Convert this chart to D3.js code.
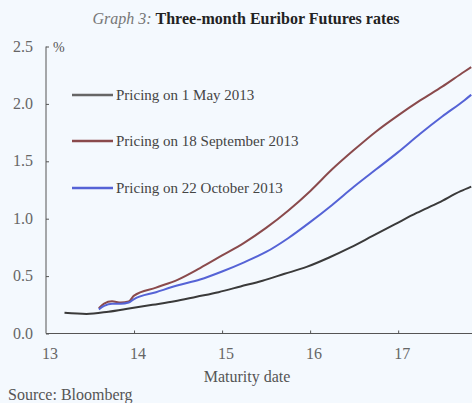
<!DOCTYPE html>
<html><head><meta charset="utf-8">
<script src="https://cdn.jsdelivr.net/npm/d3@7/dist/d3.min.js"></script>
<style>
html,body{margin:0;padding:0;background:#f4f9fe;}
svg{display:block;}
svg text{font-family:"Liberation Serif","DejaVu Serif",serif;}
</style></head>
<body><svg id="c" width="472" height="403"></svg>
<script>
const seriesNames = ["Pricing on 1 May 2013","Pricing on 18 September 2013","Pricing on 22 October 2013"];
const seriesColors = ["#3a3a3a","#8a4a4c","#5563d6"];
const mayDates = [13.21,13.46,13.71,13.96,14.21,14.46,14.71,14.96,15.21,15.46,15.71,15.96,16.21,16.46,16.71,16.96,17.21,17.46,17.71,17.83];
const mayRates = [0.18,0.17,0.19,0.22,0.25,0.28,0.32,0.36,0.41,0.46,0.52,0.58,0.66,0.75,0.85,0.95,1.05,1.14,1.24,1.28];
const sepDates = [13.60,13.66,13.75,13.85,13.94,14.0,14.25,14.5,14.75,15.0,15.25,15.5,15.75,16.0,16.25,16.5,16.75,17.0,17.25,17.5,17.75,17.83];
const sepRates = [0.22,0.26,0.28,0.27,0.28,0.33,0.40,0.47,0.57,0.68,0.79,0.92,1.07,1.24,1.43,1.60,1.76,1.90,2.03,2.15,2.28,2.32];
const octDates = [13.60,13.66,13.75,13.85,13.94,14.0,14.25,14.5,14.75,15.0,15.25,15.5,15.75,16.0,16.25,16.5,16.75,17.0,17.25,17.5,17.75,17.83];
const octRates = [0.21,0.24,0.26,0.26,0.27,0.30,0.36,0.42,0.47,0.54,0.62,0.71,0.83,0.97,1.12,1.28,1.43,1.58,1.74,1.89,2.03,2.08];
const xTicks = [13,14,15,16,17];
const yTicks = [0,0.5,1,1.5,2,2.5];

const svg = d3.select("#c");
const FF = "'Liberation Serif','DejaVu Serif',serif";
const x = d3.scaleLinear().domain([13,17.85]).range([46,473]);
const y = d3.scaleLinear().domain([0,2.5]).range([333.5,46.5]);
const axisColor = "#555";

// title
const t = svg.append("text").attr("x",246).attr("y",24).attr("text-anchor","middle").attr("font-size",16).attr("font-family",FF);
t.append("tspan").attr("font-style","italic").attr("fill","#777").text("Graph 3: ");
t.append("tspan").attr("font-weight","bold").attr("fill","#222").text("Three-month Euribor Futures rates");

// y axis
const ya = svg.append("g").attr("transform","translate(46,0)")
  .call(d3.axisRight(y).tickValues(yTicks).tickSize(3).tickFormat(""));
ya.select(".domain").attr("stroke",axisColor).attr("d","M0,"+y(2.5)+"V"+y(0));
ya.selectAll(".tick line").attr("stroke",axisColor);
svg.append("g").selectAll("text").data(yTicks).join("text")
  .attr("x",33).attr("y",d=>y(d)+5).attr("text-anchor","end").attr("font-family",FF)
  .attr("font-size",16).attr("fill","#666").text(d=>d3.format(".1f")(d));
svg.append("text").attr("x",53).attr("y",52).attr("font-size",14).attr("font-family",FF).attr("fill","#555").text("%");

// x axis
const xa = svg.append("g").attr("transform","translate(0,333.5)")
  .call(d3.axisTop(x).tickValues(xTicks.slice(1)).tickSize(3).tickFormat(""));
xa.select(".domain").attr("stroke",axisColor).attr("d","M46,0H472");
xa.selectAll(".tick line").attr("stroke",axisColor);
svg.append("g").selectAll("text").data(xTicks).join("text")
  .attr("x",d=>x(d)+4).attr("y",359).attr("text-anchor","middle").attr("font-family",FF)
  .attr("font-size",16).attr("fill","#666").text(d=>d);
svg.append("text").attr("x",247).attr("y",382).attr("text-anchor","middle").attr("font-family",FF)
  .attr("font-size",16).attr("fill","#555").text("Maturity date");
svg.append("text").attr("x",8).attr("y",400).attr("font-size",16).attr("font-family",FF).attr("fill","#555").text("Source: Bloomberg");

// lines
const series = [
  {dates:mayDates, rates:mayRates},
  {dates:sepDates, rates:sepRates},
  {dates:octDates, rates:octRates}
];
const line = d3.line().x(d=>x(d[0])).y(d=>y(d[1])).curve(d3.curveMonotoneX);
series.forEach((s,i)=>{
  svg.append("path").datum(s.dates.map((d,j)=>[d,s.rates[j]]))
    .attr("fill","none").attr("stroke",seriesColors[i]).attr("stroke-width",2)
    .attr("d",line);
});

// legend
const legY = [95,141,188];
seriesNames.forEach((n,i)=>{
  svg.append("line").attr("x1",72).attr("x2",113).attr("y1",legY[i]).attr("y2",legY[i])
    .attr("stroke",i===0?"#666":seriesColors[i]).attr("stroke-width",2.5);
  svg.append("text").attr("x",116).attr("y",legY[i]+5).attr("font-size",15).attr("font-family",FF)
    .attr("fill","#444").text(n);
});
</script></body></html>
